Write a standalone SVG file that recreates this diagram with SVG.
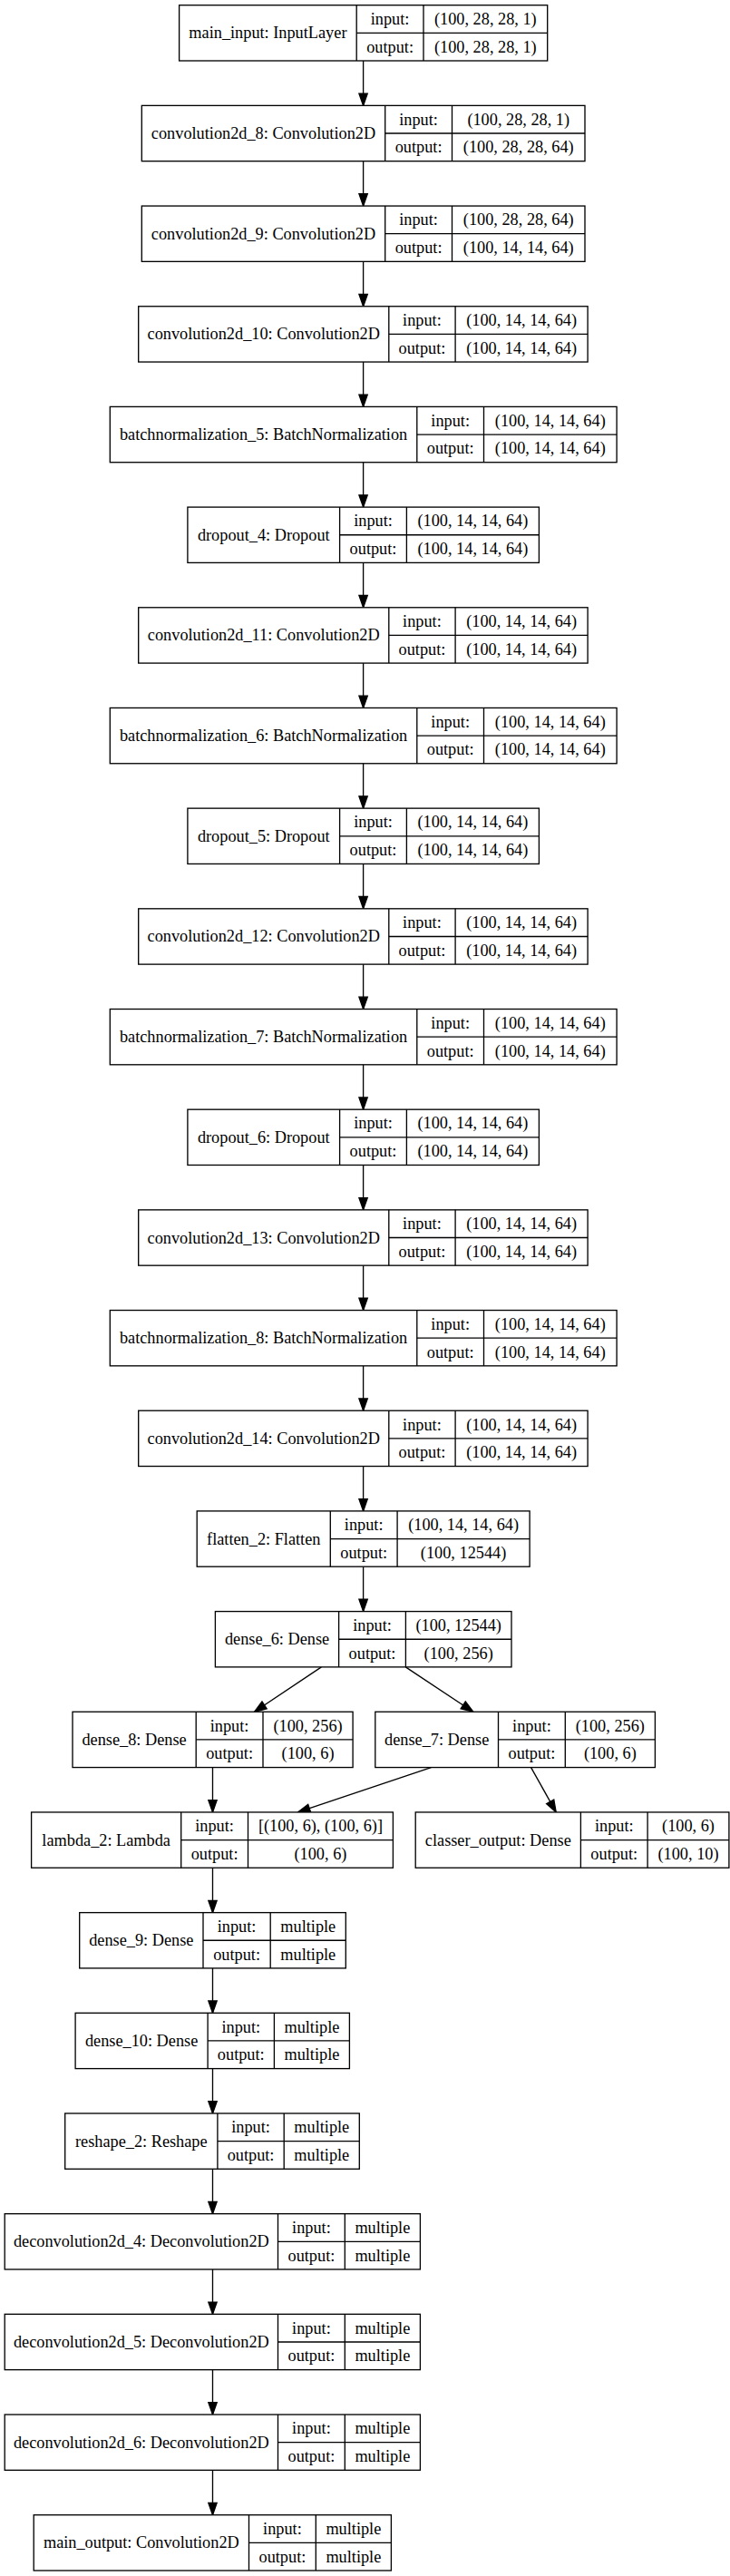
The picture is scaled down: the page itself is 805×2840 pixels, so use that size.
<svg xmlns="http://www.w3.org/2000/svg" width="805" height="2840" viewBox="0 0 805 2840">
<style>
rect{fill:#fff;stroke:#000;stroke-width:1.33}
line.d{stroke:#000;stroke-width:1.33}
text{font-family:"Liberation Serif","Times New Roman",serif;font-size:18.3px;fill:#000;text-anchor:middle}
.e line{stroke:#000;stroke-width:1.33;marker-end:url(#ah)}
</style>
<defs>
<marker id="ah" markerUnits="userSpaceOnUse" markerWidth="20" markerHeight="20" refX="14" refY="5.67" orient="auto" overflow="visible">
<path d="M0.7,1 L14,5.67 L0.7,10.34 Z" fill="#000" stroke="#000" stroke-width="1.33"/>
</marker>
</defs>
<rect x="0" y="0" width="805" height="2840" style="stroke:none"/>
<g class="e" id="edges">
<line x1="400.6" y1="67.0" x2="400.6" y2="116.38"/>
<line x1="400.6" y1="177.68" x2="400.6" y2="227.06"/>
<line x1="400.6" y1="288.36" x2="400.6" y2="337.74"/>
<line x1="400.6" y1="399.04" x2="400.6" y2="448.42"/>
<line x1="400.6" y1="509.72" x2="400.6" y2="559.10"/>
<line x1="400.6" y1="620.40" x2="400.6" y2="669.78"/>
<line x1="400.6" y1="731.08" x2="400.6" y2="780.46"/>
<line x1="400.6" y1="841.76" x2="400.6" y2="891.14"/>
<line x1="400.6" y1="952.44" x2="400.6" y2="1001.82"/>
<line x1="400.6" y1="1063.12" x2="400.6" y2="1112.50"/>
<line x1="400.6" y1="1173.80" x2="400.6" y2="1223.18"/>
<line x1="400.6" y1="1284.48" x2="400.6" y2="1333.86"/>
<line x1="400.6" y1="1395.16" x2="400.6" y2="1444.54"/>
<line x1="400.6" y1="1505.84" x2="400.6" y2="1555.22"/>
<line x1="400.6" y1="1616.52" x2="400.6" y2="1665.90"/>
<line x1="400.6" y1="1727.20" x2="400.6" y2="1776.58"/>
<line x1="354.4" y1="1837.88" x2="280.5" y2="1887.26"/>
<line x1="447.3" y1="1837.88" x2="521.8" y2="1887.26"/>
<line x1="234.5" y1="1948.56" x2="234.5" y2="1997.94"/>
<line x1="475.4" y1="1948.56" x2="328.6" y2="1997.94"/>
<line x1="585.6" y1="1948.56" x2="613.2" y2="1997.94"/>
<line x1="234.5" y1="2059.24" x2="234.5" y2="2108.62"/>
<line x1="234.5" y1="2169.92" x2="234.5" y2="2219.30"/>
<line x1="234.5" y1="2280.60" x2="234.5" y2="2329.98"/>
<line x1="234.5" y1="2391.28" x2="234.5" y2="2440.66"/>
<line x1="234.5" y1="2501.96" x2="234.5" y2="2551.34"/>
<line x1="234.5" y1="2612.64" x2="234.5" y2="2662.02"/>
<line x1="234.5" y1="2723.32" x2="234.5" y2="2772.70"/>
</g>

<g id="main_input" transform="translate(0,5.7)">
<rect x="197.6" y="0" width="406.1" height="61.3"/>
<line class="d" x1="393.2" y1="0" x2="393.2" y2="61.3"/><line class="d" x1="467" y1="0" x2="467" y2="61.3"/><line class="d" x1="393.2" y1="30.65" x2="603.7" y2="30.65"/>
<text x="295.4" y="36.65">main_input: InputLayer</text>
<text x="430.1" y="21.3">input:</text><text x="535.35" y="21.3">(100, 28, 28, 1)</text>
<text x="430.1" y="52">output:</text><text x="535.35" y="52">(100, 28, 28, 1)</text>
</g>

<g id="convolution2d_8" transform="translate(0,116.38)">
<rect x="156.3" y="0" width="488.7" height="61.3"/>
<line class="d" x1="424.7" y1="0" x2="424.7" y2="61.3"/><line class="d" x1="498.5" y1="0" x2="498.5" y2="61.3"/><line class="d" x1="424.7" y1="30.65" x2="645" y2="30.65"/>
<text x="290.5" y="36.65">convolution2d_8: Convolution2D</text>
<text x="461.6" y="21.3">input:</text><text x="571.75" y="21.3">(100, 28, 28, 1)</text>
<text x="461.6" y="52">output:</text><text x="571.75" y="52">(100, 28, 28, 64)</text>
</g>

<g id="convolution2d_9" transform="translate(0,227.06)">
<rect x="156.3" y="0" width="488.7" height="61.3"/>
<line class="d" x1="424.7" y1="0" x2="424.7" y2="61.3"/><line class="d" x1="498.5" y1="0" x2="498.5" y2="61.3"/><line class="d" x1="424.7" y1="30.65" x2="645" y2="30.65"/>
<text x="290.5" y="36.65">convolution2d_9: Convolution2D</text>
<text x="461.6" y="21.3">input:</text><text x="571.75" y="21.3">(100, 28, 28, 64)</text>
<text x="461.6" y="52">output:</text><text x="571.75" y="52">(100, 14, 14, 64)</text>
</g>

<g id="convolution2d_10" transform="translate(0,337.74)">
<rect x="152.7" y="0" width="495.4" height="61.3"/>
<line class="d" x1="428.8" y1="0" x2="428.8" y2="61.3"/><line class="d" x1="502.1" y1="0" x2="502.1" y2="61.3"/><line class="d" x1="428.8" y1="30.65" x2="648.1" y2="30.65"/>
<text x="290.75" y="36.65">convolution2d_10: Convolution2D</text>
<text x="465.45" y="21.3">input:</text><text x="575.1" y="21.3">(100, 14, 14, 64)</text>
<text x="465.45" y="52">output:</text><text x="575.1" y="52">(100, 14, 14, 64)</text>
</g>

<g id="batchnormalization_5" transform="translate(0,448.42)">
<rect x="121.3" y="0" width="558.8" height="61.3"/>
<line class="d" x1="459.8" y1="0" x2="459.8" y2="61.3"/><line class="d" x1="533.5" y1="0" x2="533.5" y2="61.3"/><line class="d" x1="459.8" y1="30.65" x2="680.1" y2="30.65"/>
<text x="290.55" y="36.65">batchnormalization_5: BatchNormalization</text>
<text x="496.65" y="21.3">input:</text><text x="606.8" y="21.3">(100, 14, 14, 64)</text>
<text x="496.65" y="52">output:</text><text x="606.8" y="52">(100, 14, 14, 64)</text>
</g>

<g id="dropout_4" transform="translate(0,559.10)">
<rect x="206.9" y="0" width="387.5" height="61.3"/>
<line class="d" x1="374.6" y1="0" x2="374.6" y2="61.3"/><line class="d" x1="448.4" y1="0" x2="448.4" y2="61.3"/><line class="d" x1="374.6" y1="30.65" x2="594.4" y2="30.65"/>
<text x="290.75" y="36.65">dropout_4: Dropout</text>
<text x="411.5" y="21.3">input:</text><text x="521.4" y="21.3">(100, 14, 14, 64)</text>
<text x="411.5" y="52">output:</text><text x="521.4" y="52">(100, 14, 14, 64)</text>
</g>

<g id="convolution2d_11" transform="translate(0,669.78)">
<rect x="152.7" y="0" width="495.4" height="61.3"/>
<line class="d" x1="428.8" y1="0" x2="428.8" y2="61.3"/><line class="d" x1="502.1" y1="0" x2="502.1" y2="61.3"/><line class="d" x1="428.8" y1="30.65" x2="648.1" y2="30.65"/>
<text x="290.75" y="36.65">convolution2d_11: Convolution2D</text>
<text x="465.45" y="21.3">input:</text><text x="575.1" y="21.3">(100, 14, 14, 64)</text>
<text x="465.45" y="52">output:</text><text x="575.1" y="52">(100, 14, 14, 64)</text>
</g>

<g id="batchnormalization_6" transform="translate(0,780.46)">
<rect x="121.3" y="0" width="558.8" height="61.3"/>
<line class="d" x1="459.8" y1="0" x2="459.8" y2="61.3"/><line class="d" x1="533.5" y1="0" x2="533.5" y2="61.3"/><line class="d" x1="459.8" y1="30.65" x2="680.1" y2="30.65"/>
<text x="290.55" y="36.65">batchnormalization_6: BatchNormalization</text>
<text x="496.65" y="21.3">input:</text><text x="606.8" y="21.3">(100, 14, 14, 64)</text>
<text x="496.65" y="52">output:</text><text x="606.8" y="52">(100, 14, 14, 64)</text>
</g>

<g id="dropout_5" transform="translate(0,891.14)">
<rect x="206.9" y="0" width="387.5" height="61.3"/>
<line class="d" x1="374.6" y1="0" x2="374.6" y2="61.3"/><line class="d" x1="448.4" y1="0" x2="448.4" y2="61.3"/><line class="d" x1="374.6" y1="30.65" x2="594.4" y2="30.65"/>
<text x="290.75" y="36.65">dropout_5: Dropout</text>
<text x="411.5" y="21.3">input:</text><text x="521.4" y="21.3">(100, 14, 14, 64)</text>
<text x="411.5" y="52">output:</text><text x="521.4" y="52">(100, 14, 14, 64)</text>
</g>

<g id="convolution2d_12" transform="translate(0,1001.82)">
<rect x="152.7" y="0" width="495.4" height="61.3"/>
<line class="d" x1="428.8" y1="0" x2="428.8" y2="61.3"/><line class="d" x1="502.1" y1="0" x2="502.1" y2="61.3"/><line class="d" x1="428.8" y1="30.65" x2="648.1" y2="30.65"/>
<text x="290.75" y="36.65">convolution2d_12: Convolution2D</text>
<text x="465.45" y="21.3">input:</text><text x="575.1" y="21.3">(100, 14, 14, 64)</text>
<text x="465.45" y="52">output:</text><text x="575.1" y="52">(100, 14, 14, 64)</text>
</g>

<g id="batchnormalization_7" transform="translate(0,1112.50)">
<rect x="121.3" y="0" width="558.8" height="61.3"/>
<line class="d" x1="459.8" y1="0" x2="459.8" y2="61.3"/><line class="d" x1="533.5" y1="0" x2="533.5" y2="61.3"/><line class="d" x1="459.8" y1="30.65" x2="680.1" y2="30.65"/>
<text x="290.55" y="36.65">batchnormalization_7: BatchNormalization</text>
<text x="496.65" y="21.3">input:</text><text x="606.8" y="21.3">(100, 14, 14, 64)</text>
<text x="496.65" y="52">output:</text><text x="606.8" y="52">(100, 14, 14, 64)</text>
</g>

<g id="dropout_6" transform="translate(0,1223.18)">
<rect x="206.9" y="0" width="387.5" height="61.3"/>
<line class="d" x1="374.6" y1="0" x2="374.6" y2="61.3"/><line class="d" x1="448.4" y1="0" x2="448.4" y2="61.3"/><line class="d" x1="374.6" y1="30.65" x2="594.4" y2="30.65"/>
<text x="290.75" y="36.65">dropout_6: Dropout</text>
<text x="411.5" y="21.3">input:</text><text x="521.4" y="21.3">(100, 14, 14, 64)</text>
<text x="411.5" y="52">output:</text><text x="521.4" y="52">(100, 14, 14, 64)</text>
</g>

<g id="convolution2d_13" transform="translate(0,1333.86)">
<rect x="152.7" y="0" width="495.4" height="61.3"/>
<line class="d" x1="428.8" y1="0" x2="428.8" y2="61.3"/><line class="d" x1="502.1" y1="0" x2="502.1" y2="61.3"/><line class="d" x1="428.8" y1="30.65" x2="648.1" y2="30.65"/>
<text x="290.75" y="36.65">convolution2d_13: Convolution2D</text>
<text x="465.45" y="21.3">input:</text><text x="575.1" y="21.3">(100, 14, 14, 64)</text>
<text x="465.45" y="52">output:</text><text x="575.1" y="52">(100, 14, 14, 64)</text>
</g>

<g id="batchnormalization_8" transform="translate(0,1444.54)">
<rect x="121.3" y="0" width="558.8" height="61.3"/>
<line class="d" x1="459.8" y1="0" x2="459.8" y2="61.3"/><line class="d" x1="533.5" y1="0" x2="533.5" y2="61.3"/><line class="d" x1="459.8" y1="30.65" x2="680.1" y2="30.65"/>
<text x="290.55" y="36.65">batchnormalization_8: BatchNormalization</text>
<text x="496.65" y="21.3">input:</text><text x="606.8" y="21.3">(100, 14, 14, 64)</text>
<text x="496.65" y="52">output:</text><text x="606.8" y="52">(100, 14, 14, 64)</text>
</g>

<g id="convolution2d_14" transform="translate(0,1555.22)">
<rect x="152.7" y="0" width="495.4" height="61.3"/>
<line class="d" x1="428.8" y1="0" x2="428.8" y2="61.3"/><line class="d" x1="502.1" y1="0" x2="502.1" y2="61.3"/><line class="d" x1="428.8" y1="30.65" x2="648.1" y2="30.65"/>
<text x="290.75" y="36.65">convolution2d_14: Convolution2D</text>
<text x="465.45" y="21.3">input:</text><text x="575.1" y="21.3">(100, 14, 14, 64)</text>
<text x="465.45" y="52">output:</text><text x="575.1" y="52">(100, 14, 14, 64)</text>
</g>

<g id="flatten_2" transform="translate(0,1665.90)">
<rect x="217.2" y="0" width="366.9" height="61.3"/>
<line class="d" x1="364.3" y1="0" x2="364.3" y2="61.3"/><line class="d" x1="438.1" y1="0" x2="438.1" y2="61.3"/><line class="d" x1="364.3" y1="30.65" x2="584.1" y2="30.65"/>
<text x="290.75" y="36.65">flatten_2: Flatten</text>
<text x="401.2" y="21.3">input:</text><text x="511.1" y="21.3">(100, 14, 14, 64)</text>
<text x="401.2" y="52">output:</text><text x="511.1" y="52">(100, 12544)</text>
</g>

<g id="dense_6" transform="translate(0,1776.58)">
<rect x="237.4" y="0" width="326.6" height="61.3"/>
<line class="d" x1="373.6" y1="0" x2="373.6" y2="61.3"/><line class="d" x1="447.4" y1="0" x2="447.4" y2="61.3"/><line class="d" x1="373.6" y1="30.65" x2="564" y2="30.65"/>
<text x="305.5" y="36.65">dense_6: Dense</text>
<text x="410.5" y="21.3">input:</text><text x="505.7" y="21.3">(100, 12544)</text>
<text x="410.5" y="52">output:</text><text x="505.7" y="52">(100, 256)</text>
</g>

<g id="dense_8" transform="translate(0,1887.26)">
<rect x="80" y="0" width="309.1" height="61.3"/>
<line class="d" x1="216.2" y1="0" x2="216.2" y2="61.3"/><line class="d" x1="290" y1="0" x2="290" y2="61.3"/><line class="d" x1="216.2" y1="30.65" x2="389.1" y2="30.65"/>
<text x="148.1" y="36.65">dense_8: Dense</text>
<text x="253.1" y="21.3">input:</text><text x="339.55" y="21.3">(100, 256)</text>
<text x="253.1" y="52">output:</text><text x="339.55" y="52">(100, 6)</text>
</g>

<g id="dense_7" transform="translate(0,1887.26)">
<rect x="413.8" y="0" width="308.6" height="61.3"/>
<line class="d" x1="549.5" y1="0" x2="549.5" y2="61.3"/><line class="d" x1="623.3" y1="0" x2="623.3" y2="61.3"/><line class="d" x1="549.5" y1="30.65" x2="722.4" y2="30.65"/>
<text x="481.65" y="36.65">dense_7: Dense</text>
<text x="586.4" y="21.3">input:</text><text x="672.85" y="21.3">(100, 256)</text>
<text x="586.4" y="52">output:</text><text x="672.85" y="52">(100, 6)</text>
</g>

<g id="lambda_2" transform="translate(0,1997.94)">
<rect x="34.6" y="0" width="398.8" height="61.3"/>
<line class="d" x1="199.7" y1="0" x2="199.7" y2="61.3"/><line class="d" x1="273.5" y1="0" x2="273.5" y2="61.3"/><line class="d" x1="199.7" y1="30.65" x2="433.4" y2="30.65"/>
<text x="117.15" y="36.65">lambda_2: Lambda</text>
<text x="236.6" y="21.3">input:</text><text x="353.45" y="21.3">[(100, 6), (100, 6)]</text>
<text x="236.6" y="52">output:</text><text x="353.45" y="52">(100, 6)</text>
</g>

<g id="classer_output" transform="translate(0,1997.94)">
<rect x="458.2" y="0" width="345.7" height="61.3"/>
<line class="d" x1="640.4" y1="0" x2="640.4" y2="61.3"/><line class="d" x1="714.1" y1="0" x2="714.1" y2="61.3"/><line class="d" x1="640.4" y1="30.65" x2="803.9" y2="30.65"/>
<text x="549.3" y="36.65">classer_output: Dense</text>
<text x="677.25" y="21.3">input:</text><text x="759" y="21.3">(100, 6)</text>
<text x="677.25" y="52">output:</text><text x="759" y="52">(100, 10)</text>
</g>

<g id="dense_9" transform="translate(0,2108.62)">
<rect x="87.7" y="0" width="293.6" height="61.3"/>
<line class="d" x1="224" y1="0" x2="224" y2="61.3"/><line class="d" x1="298.2" y1="0" x2="298.2" y2="61.3"/><line class="d" x1="224" y1="30.65" x2="381.3" y2="30.65"/>
<text x="155.85" y="36.65">dense_9: Dense</text>
<text x="261.1" y="21.3">input:</text><text x="339.75" y="21.3">multiple</text>
<text x="261.1" y="52">output:</text><text x="339.75" y="52">multiple</text>
</g>

<g id="dense_10" transform="translate(0,2219.30)">
<rect x="83.1" y="0" width="302.3" height="61.3"/>
<line class="d" x1="229.1" y1="0" x2="229.1" y2="61.3"/><line class="d" x1="302.4" y1="0" x2="302.4" y2="61.3"/><line class="d" x1="229.1" y1="30.65" x2="385.4" y2="30.65"/>
<text x="156.1" y="36.65">dense_10: Dense</text>
<text x="265.75" y="21.3">input:</text><text x="343.9" y="21.3">multiple</text>
<text x="265.75" y="52">output:</text><text x="343.9" y="52">multiple</text>
</g>

<g id="reshape_2" transform="translate(0,2329.98)">
<rect x="71.7" y="0" width="324.6" height="61.3"/>
<line class="d" x1="239.9" y1="0" x2="239.9" y2="61.3"/><line class="d" x1="313.2" y1="0" x2="313.2" y2="61.3"/><line class="d" x1="239.9" y1="30.65" x2="396.3" y2="30.65"/>
<text x="155.8" y="36.65">reshape_2: Reshape</text>
<text x="276.55" y="21.3">input:</text><text x="354.75" y="21.3">multiple</text>
<text x="276.55" y="52">output:</text><text x="354.75" y="52">multiple</text>
</g>

<g id="deconvolution2d_4" transform="translate(0,2440.66)">
<rect x="5.2" y="0" width="458.2" height="61.3"/>
<line class="d" x1="306.5" y1="0" x2="306.5" y2="61.3"/><line class="d" x1="380.3" y1="0" x2="380.3" y2="61.3"/><line class="d" x1="306.5" y1="30.65" x2="463.4" y2="30.65"/>
<text x="155.85" y="36.65">deconvolution2d_4: Deconvolution2D</text>
<text x="343.4" y="21.3">input:</text><text x="421.85" y="21.3">multiple</text>
<text x="343.4" y="52">output:</text><text x="421.85" y="52">multiple</text>
</g>

<g id="deconvolution2d_5" transform="translate(0,2551.34)">
<rect x="5.2" y="0" width="458.2" height="61.3"/>
<line class="d" x1="306.5" y1="0" x2="306.5" y2="61.3"/><line class="d" x1="380.3" y1="0" x2="380.3" y2="61.3"/><line class="d" x1="306.5" y1="30.65" x2="463.4" y2="30.65"/>
<text x="155.85" y="36.65">deconvolution2d_5: Deconvolution2D</text>
<text x="343.4" y="21.3">input:</text><text x="421.85" y="21.3">multiple</text>
<text x="343.4" y="52">output:</text><text x="421.85" y="52">multiple</text>
</g>

<g id="deconvolution2d_6" transform="translate(0,2662.02)">
<rect x="5.2" y="0" width="458.2" height="61.3"/>
<line class="d" x1="306.5" y1="0" x2="306.5" y2="61.3"/><line class="d" x1="380.3" y1="0" x2="380.3" y2="61.3"/><line class="d" x1="306.5" y1="30.65" x2="463.4" y2="30.65"/>
<text x="155.85" y="36.65">deconvolution2d_6: Deconvolution2D</text>
<text x="343.4" y="21.3">input:</text><text x="421.85" y="21.3">multiple</text>
<text x="343.4" y="52">output:</text><text x="421.85" y="52">multiple</text>
</g>

<g id="main_output" transform="translate(0,2772.70)">
<rect x="37.2" y="0" width="394.2" height="61.3"/>
<line class="d" x1="274.5" y1="0" x2="274.5" y2="61.3"/><line class="d" x1="348.3" y1="0" x2="348.3" y2="61.3"/><line class="d" x1="274.5" y1="30.65" x2="431.4" y2="30.65"/>
<text x="155.85" y="36.65">main_output: Convolution2D</text>
<text x="311.4" y="21.3">input:</text><text x="389.85" y="21.3">multiple</text>
<text x="311.4" y="52">output:</text><text x="389.85" y="52">multiple</text>
</g>
</svg>
